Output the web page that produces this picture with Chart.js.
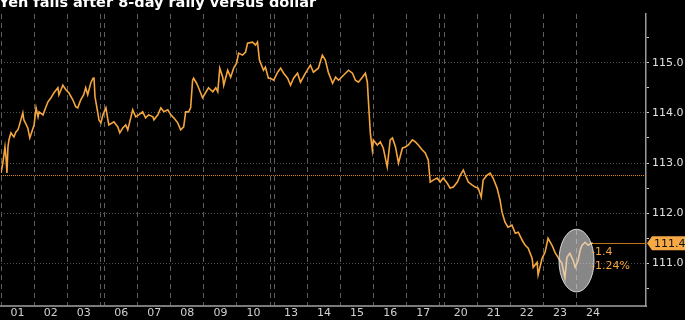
<!DOCTYPE html>
<html>
<head>
<meta charset="utf-8">
<script src="https://cdn.jsdelivr.net/npm/chart.js@4.4.1/dist/chart.umd.min.js"></script>
<style>
  body { margin: 0; background: #000; }
  canvas { display: block; }
</style>
</head>
<body>
<canvas id="usdjpy" width="685" height="320"></canvas>
<script>
// x values are in trading days (day boundaries listed in sessionStarts, weekends add a small gap)
const sessionLabels = ['01', '02', '03', '06', '07', '08', '09', '10', '13', '14', '15', '16', '17', '20', '21', '22', '23', '24'];
const sessionStarts = [0, 1, 2, 3.13, 4.13, 5.13, 6.13, 7.13, 8.26, 9.26, 10.26, 11.26, 12.26, 13.39, 14.39, 15.39, 16.39, 17.39];
const xMax = 19.49;

const priceX = [
  0, 0.06, 0.12, 0.15, 0.18, 0.21, 0.24, 0.30, 0.39, 0.45, 0.51, 0.54, 0.66, 0.69, 0.81, 0.87, 0.97, 1.00, 1.06, 1.12,
  1.15, 1.27, 1.36, 1.42, 1.51, 1.60, 1.72, 1.75, 1.87, 1.96, 2.05, 2.17, 2.26, 2.32, 2.41, 2.50, 2.56, 2.62, 2.71, 2.78,
  2.81, 2.84, 2.90, 2.96, 3.02, 3.08, 3.17, 3.23, 3.26, 3.41, 3.53, 3.59, 3.68, 3.77, 3.83, 3.92, 3.98, 4.07, 4.16, 4.28,
  4.37, 4.46, 4.59, 4.62, 4.74, 4.83, 4.92, 5.04, 5.13, 5.22, 5.34, 5.43, 5.52, 5.58, 5.67, 5.73, 5.79, 5.82, 5.91, 5.97,
  6.09, 6.18, 6.27, 6.40, 6.49, 6.55, 6.61, 6.70, 6.73, 6.85, 6.94, 7.03, 7.12, 7.18, 7.30, 7.39, 7.45, 7.60, 7.69, 7.75,
  7.81, 7.93, 7.99, 8.08, 8.14, 8.24, 8.36, 8.45, 8.54, 8.66, 8.75, 8.84, 8.96, 9.05, 9.20, 9.35, 9.44, 9.59, 9.71, 9.80,
  9.89, 10.02, 10.11, 10.20, 10.35, 10.50, 10.62, 10.71, 10.80, 10.92, 11.01, 11.07, 11.10, 11.16, 11.22, 11.25, 11.37, 11.46, 11.55, 11.67,
  11.76, 11.83, 11.92, 12.01, 12.13, 12.22, 12.31, 12.43, 12.52, 12.61, 12.73, 12.82, 12.91, 12.97, 13.06, 13.18, 13.27, 13.36, 13.48, 13.57,
  13.67, 13.79, 13.88, 13.97, 14.03, 14.12, 14.24, 14.33, 14.42, 14.51, 14.57, 14.69, 14.78, 14.87, 14.99, 15.08, 15.14, 15.23, 15.32, 15.44,
  15.54, 15.63, 15.75, 15.84, 15.93, 16.05, 16.08, 16.20, 16.23, 16.35, 16.44, 16.53, 16.65, 16.74, 16.83, 16.95, 17.04, 17.10, 17.19, 17.29,
  17.35, 17.44, 17.50, 17.56, 17.65, 17.74, 17.83, 17.89
];
const priceY = [
  112.80, 113.02, 113.32, 113.12, 112.80, 113.32, 113.46, 113.60, 113.52, 113.62, 113.66, 113.72, 114.00, 113.86, 113.70, 113.50, 113.70, 113.76, 114.10, 113.92,
  114.02, 113.96, 114.12, 114.22, 114.30, 114.40, 114.50, 114.36, 114.55, 114.46, 114.40, 114.26, 114.12, 114.10, 114.26, 114.36, 114.50, 114.36, 114.59, 114.69,
  114.71, 114.32, 114.10, 113.86, 113.80, 113.96, 114.10, 113.86, 113.76, 113.82, 113.72, 113.60, 113.70, 113.76, 113.66, 113.90, 114.06, 113.92, 113.96, 114.02,
  113.90, 113.96, 113.92, 113.86, 113.96, 114.10, 114.02, 114.06, 113.96, 113.90, 113.80, 113.66, 113.72, 114.02, 114.02, 114.10, 114.65, 114.69, 114.59, 114.50,
  114.30, 114.40, 114.50, 114.42, 114.50, 114.42, 114.89, 114.71, 114.55, 114.85, 114.71, 114.89, 114.99, 115.19, 115.15, 115.21, 115.39, 115.41, 115.35, 115.41,
  115.05, 114.85, 114.91, 114.69, 114.69, 114.65, 114.81, 114.89, 114.79, 114.69, 114.55, 114.69, 114.79, 114.61, 114.79, 114.95, 114.81, 114.89, 115.15, 115.05,
  114.81, 114.59, 114.71, 114.65, 114.75, 114.85, 114.79, 114.65, 114.61, 114.71, 114.79, 114.61, 114.26, 113.60, 113.26, 113.46, 113.36, 113.42, 113.30, 112.92,
  113.46, 113.50, 113.32, 113.00, 113.30, 113.32, 113.36, 113.46, 113.42, 113.36, 113.26, 113.20, 113.06, 112.62, 112.66, 112.70, 112.62, 112.70, 112.60, 112.50,
  112.52, 112.62, 112.76, 112.86, 112.76, 112.62, 112.56, 112.52, 112.50, 112.32, 112.66, 112.76, 112.80, 112.70, 112.50, 112.26, 112.02, 111.82, 111.72, 111.76,
  111.60, 111.62, 111.46, 111.36, 111.30, 111.10, 110.92, 111.02, 110.77, 111.10, 111.22, 111.50, 111.36, 111.22, 111.12, 111.00, 110.71, 111.12, 111.20, 111.06,
  110.92, 111.06, 111.26, 111.36, 111.42, 111.36, 111.40, 111.40
];

const yTicks = [110.5, 111, 111.5, 112, 112.5, 113, 113.5, 114, 114.5, 115, 115.5];
const yMin = 110.15;
const yMax = 115.97;

const titleText = 'Yen falls after 8-day rally versus dollar';
const prevClose = 112.76;
const lastPrice = 111.4;
const lastLabel = '111.4';
const changeLabels = ['-1.4', '-1.24%'];
// last session's range, circled in the picture
const highlight = { x0: 16.86, x1: 17.92, y0: 110.43, y1: 111.68 };

const ORANGE = '#f5a53e';

// gridlines at every session boundary, labels at session centres
const xTickVals = [];
const xTickText = [];
sessionStarts.forEach((s, i) => {
  xTickVals.push(s); xTickText.push('');
  xTickVals.push(s + 0.5); xTickText.push(sessionLabels[i]);
  const next = sessionStarts[i + 1];
  if (next !== undefined && next - (s + 1) > 0.01) {
    xTickVals.push(s + 1); xTickText.push('');
  }
});
const isCentre = v => xTickText[xTickVals.indexOf(v)] !== '';

const overlays = {
  id: 'overlays',
  beforeDatasetsDraw(chart) {
    const { ctx, chartArea, scales: { y } } = chart;
    const py = Math.round(y.getPixelForValue(prevClose)) + 0.5;
    ctx.save();
    ctx.strokeStyle = '#e08a1a';
    ctx.lineWidth = 1;
    ctx.setLineDash([1, 1]);
    ctx.beginPath();
    ctx.moveTo(chartArea.left, py);
    ctx.lineTo(chartArea.right, py);
    ctx.stroke();
    ctx.restore();
  },
  afterDatasetsDraw(chart) {
    const { ctx, chartArea, scales: { x, y } } = chart;
    // last price line
    const ly = Math.round(y.getPixelForValue(lastPrice)) + 0.5;
    const lx = x.getPixelForValue(priceX[priceX.length - 1]);
    ctx.save();
    ctx.strokeStyle = '#c0741a';
    ctx.lineWidth = 1;
    ctx.beginPath();
    ctx.moveTo(lx, ly);
    ctx.lineTo(chartArea.right, ly);
    ctx.stroke();

    // highlight ellipse
    const ex0 = x.getPixelForValue(highlight.x0), ex1 = x.getPixelForValue(highlight.x1);
    const ey0 = y.getPixelForValue(highlight.y1), ey1 = y.getPixelForValue(highlight.y0);
    ctx.beginPath();
    ctx.ellipse((ex0 + ex1) / 2, (ey0 + ey1) / 2, (ex1 - ex0) / 2, (ey1 - ey0) / 2, 0, 0, Math.PI * 2);
    ctx.fillStyle = 'rgba(225, 225, 225, 0.6)';
    ctx.fill();
    ctx.strokeStyle = 'rgba(240, 240, 240, 0.85)';
    ctx.lineWidth = 1;
    ctx.stroke();

    // change labels
    ctx.fillStyle = ORANGE;
    ctx.font = '11px "DejaVu Sans"';
    ctx.textBaseline = 'middle';
    ctx.textAlign = 'left';
    ctx.fillText(changeLabels[0], ex1 - 3, ly + 9);
    ctx.fillText(changeLabels[1], ex1 - 3, ly + 23);
    ctx.restore();
  },
  afterDraw(chart) {
    const { ctx, chartArea, scales: { y } } = chart;
    ctx.save();
    // title, partly cut off at the top
    ctx.fillStyle = '#fff';
    ctx.font = 'bold 14.5px "DejaVu Sans"';
    ctx.textBaseline = 'alphabetic';
    ctx.fillText(titleText, -1, 6.5);

    // last price tag on the axis
    const ly = y.getPixelForValue(lastPrice);
    const r = chartArea.right;
    ctx.fillStyle = '#f6a945';
    ctx.beginPath();
    ctx.moveTo(r + 1, ly);
    ctx.lineTo(r + 6, ly - 7);
    ctx.lineTo(r + 45, ly - 7);
    ctx.lineTo(r + 45, ly + 7);
    ctx.lineTo(r + 6, ly + 7);
    ctx.closePath();
    ctx.fill();
    ctx.fillStyle = '#111';
    ctx.font = '11px "DejaVu Sans"';
    ctx.textBaseline = 'middle';
    ctx.fillText(lastLabel, r + 8, ly + 0.5);
    ctx.restore();
  }
};

new Chart(document.getElementById('usdjpy'), {
  type: 'line',
  data: {
    datasets: [{
      data: priceX.map((v, i) => ({ x: v, y: priceY[i] })),
      borderColor: ORANGE,
      borderWidth: 1.6,
      pointRadius: 0,
      tension: 0
    }]
  },
  options: {
    responsive: false,
    animation: false,
    layout: { padding: { top: 14, left: 0, right: 0, bottom: 0 } },
    plugins: { legend: { display: false }, tooltip: { enabled: false } },
    scales: {
      x: {
        type: 'linear',
        min: 0,
        max: xMax,
        afterBuildTicks: axis => { axis.ticks = xTickVals.map(v => ({ value: v })); },
        afterFit: axis => { axis.height = 14; },
        ticks: {
          autoSkip: false,
          maxRotation: 0,
          padding: 1,
          color: '#d0d0d0',
          font: { family: 'DejaVu Sans', size: 11 },
          callback: (v, i) => xTickText[i]
        },
        grid: {
          drawTicks: false,
          lineWidth: 1,
          color: c => (c.tick && !isCentre(c.tick.value)) ? '#5e5e5e' : 'rgba(0,0,0,0)'
        },
        border: { display: true, color: '#7a7a7a', width: 2, dash: [5, 4] }
      },
      y: {
        position: 'right',
        min: yMin,
        max: yMax,
        afterBuildTicks: axis => { axis.ticks = yTicks.map(v => ({ value: v })); },
        afterFit: axis => { axis.width = 39; },
        ticks: {
          padding: 3,
          color: '#e0e0e0',
          font: { family: 'DejaVu Sans', size: 11 },
          callback: v => Number.isInteger(v) ? v.toFixed(1) : ''
        },
        grid: {
          tickLength: 3,
          tickColor: '#cfcfcf',
          lineWidth: 1,
          color: c => (c.tick && Number.isInteger(c.tick.value)) ? '#4e4e4e' : 'rgba(0,0,0,0)'
        },
        border: { display: true, color: '#9a9a9a', width: 1.5, dash: [1, 2] }
      }
    }
  },
  plugins: [overlays]
});
</script>
</body>
</html>
